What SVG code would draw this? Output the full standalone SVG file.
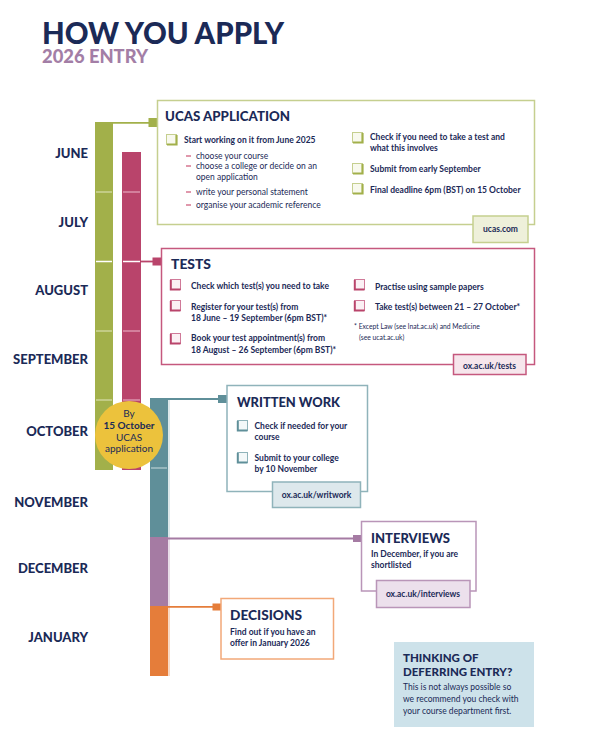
<svg xmlns="http://www.w3.org/2000/svg" width="591" height="749" viewBox="0 0 591 749">
<style>
text{font-family:Lato,"Open Sans","Liberation Sans",sans-serif;fill:#1b2a57}
.h1{font-size:30px;font-weight:900}
.h2{font-size:18px;font-weight:900;fill:#a37ea6}
.mon{font-size:13px;font-weight:900;text-anchor:end}
.hd{font-size:13.5px;font-weight:900}
.b{font-size:8.5px;font-weight:700}
.r{font-size:8.5px;font-weight:400}
.fn{font-size:6.8px;font-weight:400}
.tab{font-size:8.5px;font-weight:700;text-anchor:middle}
.dash{stroke:#d0607f;stroke-width:1.3}
</style>
<defs>
<g id="cbG"><rect x="0.5" y="0.5" width="10" height="10" fill="#f8f9ee" stroke="#c5cf8f"/><path d="M10.5,1 V10.5 H1" fill="none" stroke="#a2b04a" stroke-width="2.2"/></g>
<g id="cbP"><rect x="0.5" y="0.5" width="10" height="10" fill="#fbf0f4" stroke="#d07a99"/><path d="M0.8,1 V10.5 H10.5" fill="none" stroke="#b9446b" stroke-width="2"/></g>
<g id="cbT"><rect x="0.5" y="0.5" width="10" height="10" fill="#f3f8f9" stroke="#8fb3ba"/><path d="M0.8,1 V10.5 H10.5" fill="none" stroke="#5f8f99" stroke-width="2"/></g>
</defs>
<rect width="591" height="749" fill="#ffffff"/>

<g id="title">
<text class="h1" x="42" y="44" textLength="242" lengthAdjust="spacingAndGlyphs">HOW YOU APPLY</text>
<text class="h2" x="42" y="63" textLength="106" lengthAdjust="spacingAndGlyphs">2026 ENTRY</text>
</g>

<g id="months">
<text class="mon" x="88" y="158">JUNE</text>
<text class="mon" x="88" y="227">JULY</text>
<text class="mon" x="88" y="295">AUGUST</text>
<text class="mon" x="88" y="364">SEPTEMBER</text>
<text class="mon" x="88" y="436">OCTOBER</text>
<text class="mon" x="88" y="507">NOVEMBER</text>
<text class="mon" x="88" y="573">DECEMBER</text>
<text class="mon" x="88" y="642">JANUARY</text>
</g>

<g id="timeline">
<rect x="95" y="122" width="18" height="348" fill="#a2b04a"/>
<rect x="122" y="152" width="19" height="318" fill="#b9446b"/>
<g stroke-width="1.5">
<line x1="96" y1="192" x2="112" y2="192" stroke="#cdd598"/>
<line x1="123" y1="192" x2="140" y2="192" stroke="#dc93ad"/>
<line x1="96" y1="261.5" x2="112" y2="261.5" stroke="#ffffff"/>
<line x1="123" y1="261.5" x2="140" y2="261.5" stroke="#ffffff"/>
<line x1="96" y1="331" x2="112" y2="331" stroke="#cdd598"/>
<line x1="123" y1="331" x2="140" y2="331" stroke="#dc93ad"/>
<line x1="96" y1="400" x2="112" y2="400" stroke="#cdd598"/>
<line x1="123" y1="400" x2="140" y2="400" stroke="#dc93ad"/>
</g>
<rect x="150" y="398" width="18" height="139" fill="#5f8f99"/>
<rect x="150" y="537" width="18" height="69" fill="#a57ba3"/>
<rect x="150" y="606" width="18" height="70" fill="#e57d3a"/>
<line x1="151" y1="468" x2="167" y2="468" stroke="#a7c3c9" stroke-width="1.5"/>
<line x1="169" y1="399" x2="169" y2="537" stroke="#b9d0d5" stroke-width="1"/>
<line x1="169" y1="537" x2="169" y2="606" stroke="#d3bcd2" stroke-width="1"/>
<line x1="169" y1="606" x2="169" y2="676" stroke="#f2b48c" stroke-width="1"/>
</g>

<g id="connectors">
<path d="M113,122.8 H150" fill="none" stroke="#a2b04a" stroke-width="1.8"/>
<rect x="148.5" y="118" width="9" height="9" fill="#a2b04a"/>
<path d="M141,261.5 H154" fill="none" stroke="#b9446b" stroke-width="1.8"/>
<rect x="152.5" y="257.5" width="9" height="8" fill="#b9446b"/>
<path d="M167,399 H220" fill="none" stroke="#5f8f99" stroke-width="1.8"/>
<rect x="218" y="395" width="9" height="8" fill="#5f8f99"/>
<path d="M168,538.5 H355" fill="none" stroke="#a57ba3" stroke-width="1.8"/>
<rect x="353" y="535" width="9" height="7" fill="#a57ba3"/>
<path d="M168,606.8 H214" fill="none" stroke="#e57d3a" stroke-width="1.8"/>
<rect x="212.5" y="603.5" width="8.5" height="7" fill="#e57d3a"/>
</g>

<g id="deadline-badge">
<circle cx="129" cy="435" r="34" fill="#ecc23c"/>
<text x="129" y="417" font-size="10" text-anchor="middle">By</text>
<text x="129" y="429" font-size="10" font-weight="700" text-anchor="middle">15 October</text>
<text x="129" y="441" font-size="10" text-anchor="middle">UCAS</text>
<text x="129" y="452" font-size="10" text-anchor="middle">application</text>
</g>

<g id="ucas">
<rect x="157.5" y="100.5" width="377" height="124" fill="#ffffff" stroke="#c5cf8f" stroke-width="1.5"/>
<text class="hd" x="165" y="121" textLength="125" lengthAdjust="spacingAndGlyphs">UCAS APPLICATION</text>
<use href="#cbG" x="166" y="134"/>
<text class="b" x="184" y="143">Start working on it from June 2025</text>
<line class="dash" x1="186" y1="156" x2="191" y2="156"/>
<line class="dash" x1="186" y1="166" x2="191" y2="166"/>
<line class="dash" x1="186" y1="192" x2="191" y2="192"/>
<line class="dash" x1="186" y1="205" x2="191" y2="205"/>
<text class="r" x="196" y="159">choose your course</text>
<text class="r" x="196" y="169">choose a college or decide on an</text>
<text class="r" x="196" y="180">open application</text>
<text class="r" x="196" y="195">write your personal statement</text>
<text class="r" x="196" y="208">organise your academic reference</text>
<use href="#cbG" x="352" y="132"/>
<text class="b" x="370" y="140">Check if you need to take a test and</text>
<text class="b" x="370" y="151">what this involves</text>
<use href="#cbG" x="352" y="163"/>
<text class="b" x="370" y="172">Submit from early September</text>
<use href="#cbG" x="352" y="183"/>
<text class="b" x="370" y="193">Final deadline 6pm (BST) on 15 October</text>
<rect x="473" y="216" width="55" height="26.5" fill="#eef0da" stroke="#c5cf8f" stroke-width="1.5"/>
<text class="tab" x="500.5" y="232">ucas.com</text>
</g>

<g id="tests">
<rect x="161.5" y="248.5" width="373" height="116" fill="#ffffff" stroke="#c5587e" stroke-width="1.5"/>
<text class="hd" x="171" y="268.5" textLength="40" lengthAdjust="spacingAndGlyphs">TESTS</text>
<use href="#cbP" x="170" y="279"/>
<text class="b" x="191" y="289">Check which test(s) you need to take</text>
<use href="#cbP" x="170" y="300"/>
<text class="b" x="191" y="309.5">Register for your test(s) from</text>
<text class="b" x="191" y="321">18 June – 19 September (6pm BST)*</text>
<use href="#cbP" x="170" y="333"/>
<text class="b" x="191" y="341">Book your test appointment(s) from</text>
<text class="b" x="191" y="353">18 August – 26 September (6pm BST)*</text>
<use href="#cbP" x="354" y="279"/>
<text class="b" x="375" y="289.5">Practise using sample papers</text>
<use href="#cbP" x="354" y="300"/>
<text class="b" x="375" y="310">Take test(s) between 21 – 27 October*</text>
<text class="fn" x="354" y="329">* Except Law (see lnat.ac.uk) and Medicine</text>
<text class="fn" x="359" y="340">(see ucat.ac.uk)</text>
<rect x="453.5" y="354.5" width="72.5" height="20" fill="#f6e6ec" stroke="#c5587e" stroke-width="1.5"/>
<text class="tab" x="489.5" y="369">ox.ac.uk/tests</text>
</g>

<g id="written-work">
<rect x="227" y="385.5" width="140.5" height="106" fill="#ffffff" stroke="#8fb3ba" stroke-width="1.5"/>
<text class="hd" x="237" y="407" textLength="103" lengthAdjust="spacingAndGlyphs">WRITTEN WORK</text>
<use href="#cbT" x="237" y="420"/>
<text class="b" x="254.5" y="429">Check if needed for your</text>
<text class="b" x="254.5" y="440">course</text>
<use href="#cbT" x="237" y="452"/>
<text class="b" x="254.5" y="461">Submit to your college</text>
<text class="b" x="254.5" y="472">by 10 November</text>
<rect x="272.5" y="482" width="88" height="25.5" fill="#dde8ec" stroke="#8fb3ba" stroke-width="1.5"/>
<text class="tab" x="316.5" y="498">ox.ac.uk/writwork</text>
</g>

<g id="interviews">
<rect x="361.5" y="521.5" width="114.5" height="69.5" fill="#ffffff" stroke="#b995b8" stroke-width="1.5"/>
<text class="hd" x="371" y="543" textLength="79" lengthAdjust="spacingAndGlyphs">INTERVIEWS</text>
<text class="b" x="371" y="557">In December, if you are</text>
<text class="b" x="371" y="567.5">shortlisted</text>
<rect x="376.5" y="580.5" width="93.5" height="27" fill="#ece0ec" stroke="#b995b8" stroke-width="1.5"/>
<text class="tab" x="423" y="596.5">ox.ac.uk/interviews</text>
</g>

<g id="decisions">
<rect x="221" y="598.5" width="112.5" height="60.5" fill="#ffffff" stroke="#f2a878" stroke-width="1.5"/>
<text class="hd" x="230" y="620" textLength="72" lengthAdjust="spacingAndGlyphs">DECISIONS</text>
<text class="b" x="230" y="635">Find out if you have an</text>
<text class="b" x="230" y="645.5">offer in January 2026</text>
</g>

<g id="deferring">
<rect x="394" y="642" width="140" height="85" fill="#cde2ea"/>
<text x="403" y="662" font-size="11.5" font-weight="900">THINKING OF</text>
<text x="403" y="676" font-size="11.5" font-weight="900">DEFERRING ENTRY?</text>
<text class="r" x="403" y="690">This is not always possible so</text>
<text class="r" x="403" y="702">we recommend you check with</text>
<text class="r" x="403" y="713.5">your course department first.</text>
</g>
</svg>
